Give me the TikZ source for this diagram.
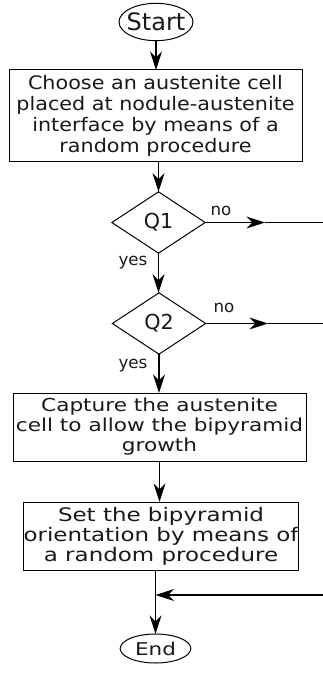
\documentclass[tikz,border=0pt]{standalone}
\usepackage{fontspec}
\setmainfont{DejaVu Sans}
\newfontfamily\fbA[FakeStretch=1.11]{DejaVu Sans}
\newfontfamily\fbB[FakeStretch=1.21]{DejaVu Sans}
\newfontfamily\fbC[FakeStretch=1.23]{DejaVu Sans}
\newfontfamily\fEnd[FakeStretch=1.22]{DejaVu Sans}
\usetikzlibrary{shapes.geometric,arrows.meta}
\begin{document}
\begin{tikzpicture}[x=0.75pt,y=-0.75pt,
  every node/.style={inner sep=0pt,outer sep=0pt,text=black!90},
  term/.style={draw,ellipse,line width=0.75pt,minimum width=54pt,minimum height=27pt},
  procbox/.style={draw,rectangle,line width=0.75pt,align=center},
  decis/.style={draw,diamond,line width=0.75pt,minimum width=70pt,minimum height=46pt,font=\fontsize{15.5}{17}\selectfont},
  lbl/.style={font=\fontsize{12.5}{14}\selectfont},
  conn/.style={line width=0.85pt,-{Stealth[length=14pt,width=9pt,inset=4.5pt]}},
  plain/.style={line width=0.85pt}]
\useasboundingbox (0,0) rectangle (323,673);

\node[term,minimum width=55.5pt,minimum height=28pt,font=\fontsize{18}{20}\selectfont] (start) at (156,22) {\makebox[0pt]{Start}};
\node[procbox,minimum width=219.75pt,minimum height=69pt,font=\fbA\fontsize{14}{15.75}\selectfont] (box1) at (155.5,116)
  {Choose an austenite cell\\placed at nodule-austenite\\interface by means of a\\random procedure};
\node[decis] (q1) at (158.5,222.5) {Q1};
\node[decis] (q2) at (159,323.5) {Q2};
\node[procbox,minimum width=219.75pt,minimum height=51pt,font=\fbB\fontsize{13.4}{15}\selectfont] (box2) at (159.5,427)
  {Capture the austenite\\cell to allow the bipyramid\\growth};
\node[procbox,minimum width=202.5pt,minimum height=51pt,font=\fbC\fontsize{14}{15}\selectfont] (box3) at (161,536)
  {Set the bipyramid\\orientation by means of\\a random procedure};
\node[term,minimum width=53pt,minimum height=21.75pt,font=\fEnd\fontsize{13.2}{14}\selectfont] (end) at (155.5,648.5) {\makebox[0pt]{End}};

\node[lbl] (no1) at (221,211) {no};
\node[lbl] (no2) at (224,308) {no};
\node[lbl] (yes1) at (133,263) {yes};
\node[lbl] (yes2) at (133,366) {yes};

\coordinate (a1) at (265,222.5);
\coordinate (r1) at (323,222.5);
\coordinate (a2) at (268,323.5);
\coordinate (r2) at (323,323.5);
\coordinate (r3) at (323,595);
\coordinate (j3) at (155.5,595);

\draw[conn] (start.south) -- (start.south |- box1.north);
\draw[conn] (q1.north |- box1.south) -- (q1.north);
\draw[conn] (q1.south) -- (q1.south |- q2.north);
\draw[conn] (q2.south) -- (q2.south |- box2.north);
\draw[conn] (box2.south) -- (box2.south |- box3.north);
\draw[conn] (end.north |- box3.south) -- (end.north);
\draw[conn] (q1.east) -- (a1);
\draw[plain,line width=1.2pt] (a1) -- (r1);
\draw[conn] (q2.east) -- (a2);
\draw[plain] (a2) -- (r2);
\draw[conn] (r3) -- (j3);
\end{tikzpicture}
\end{document}
